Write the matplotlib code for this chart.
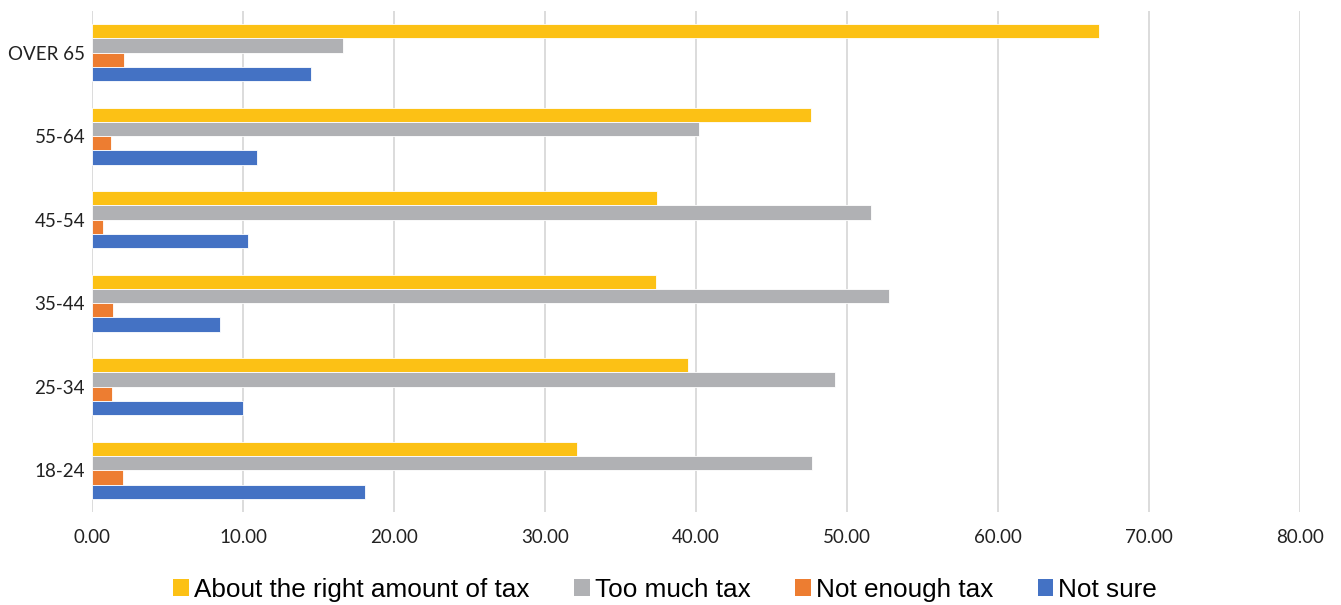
import numpy as np
import matplotlib.pyplot as plt
from matplotlib.patches import Patch

ages = ["18-24", "25-34", "35-44", "45-54", "55-64", "OVER 65"]
about_right = [32.1, 39.5, 37.35, 37.4, 47.6, 66.7]
too_much = [47.7, 49.2, 52.8, 51.6, 40.2, 16.6]
not_enough = [2.05, 1.3, 1.4, 0.7, 1.27, 2.1]
not_sure = [18.1, 10.0, 8.5, 10.3, 10.9, 14.5]

series = [
    ("About the right amount of tax", about_right, "#FCC115"),
    ("Too much tax", too_much, "#B0B1B4"),
    ("Not enough tax", not_enough, "#ED7D31"),
    ("Not sure", not_sure, "#4472C4"),
]

fig = plt.figure(figsize=(13.41, 6.05), dpi=100)
ax = fig.add_axes([0.0686, 0.1537, 0.9008, 0.8285])

y = np.arange(len(ages))
h = 0.171
offsets = [1.5 * h, 0.5 * h, -0.5 * h, -1.5 * h]
for (name, vals, col), off in zip(series, offsets):
    ax.barh(y + off, vals, height=h, color=col, edgecolor="white",
            linewidth=0.6, zorder=3)

ax.set_xlim(0, 80)
ax.set_ylim(-0.5, len(ages) - 0.5)
ax.set_xticks(np.arange(0, 81, 10))
ax.set_xticklabels([f"{v:.2f}" for v in np.arange(0, 81, 10)])
ax.set_yticks(y)
ax.set_yticklabels(ages)
ax.tick_params(length=0, labelsize=13.5, colors="#222222", pad=5)
for lab in ax.get_xticklabels() + ax.get_yticklabels():
    lab.set_family("Lato")
ax.tick_params(axis="x", pad=12)
ax.grid(axis="x", color="#DCDCDC", linewidth=1.4, zorder=0)
for s in ax.spines.values():
    s.set_visible(False)

handles = [Patch(facecolor=c, edgecolor="none", label=n) for n, _, c in series]
fig.legend(handles=handles, loc="center", bbox_to_anchor=(0.496, 0.025),
           ncol=4, frameon=False, handlelength=0.6, handleheight=0.6,
           handletextpad=0.2, columnspacing=1.7,
           prop={"family": "Liberation Sans", "size": 18.8})

fig.savefig("out.png", dpi=100)
